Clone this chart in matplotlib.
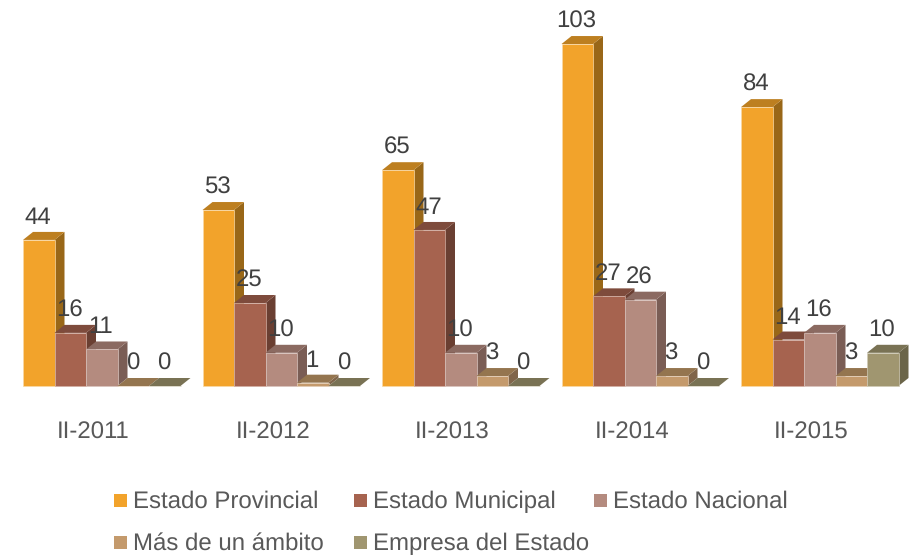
import matplotlib
matplotlib.use("Agg")
import matplotlib.pyplot as plt
from matplotlib.patches import Polygon, Rectangle

plt.rcParams['font.family'] = ['Liberation Sans', 'DejaVu Sans']
plt.rcParams['text.hinting'] = 'none'
plt.rcParams['text.hinting_factor'] = 1

periods = ["II-2011", "II-2012", "II-2013", "II-2014", "II-2015"]
series_names = ["Estado Provincial", "Estado Municipal", "Estado Nacional",
                "Más de un ámbito", "Empresa del Estado"]
provincial = [44, 53, 65, 103, 84]
municipal = [16, 25, 47, 27, 14]
nacional = [11, 10, 10, 26, 16]
ambito = [0, 1, 3, 3, 3]
empresa = [0, 0, 0, 0, 10]
series = [provincial, municipal, nacional, ambito, empresa]

front = ["#F2A32B", "#A6634F", "#B48B7F", "#C49A6C", "#A09670"]
edge = ["#F8D9A8", "#D3AFA4", "#DAC5BF", "#E3CCB4", "#D0CAB6"]
top = ["#BD7F20", "#7E4B3C", "#8B6A61", "#94754F", "#797254"]
side = ["#996718", "#6A3F32", "#7A5D55", "#80654A", "#6B6549"]
TXT = "#404040"

W, H = 917, 555
GROUP = 179.5
X0 = 23
Y0 = 386
PXV = 3.32
fig = plt.figure(figsize=(W / 100, H / 100), dpi=100)
ax = fig.add_axes([0, 0, 1, 1])
ax.set_xlim(-X0 / GROUP, (W - X0) / GROUP)
ax.set_ylim(-(H - Y0) / PXV, Y0 / PXV)
ax.axis("off")

bw = 31.5 / GROUP
dx = 10 / GROUP
dy = 8 / PXV

for s in range(len(series)):
    for g, v in enumerate(series[s]):
        x = g + s * bw
        ax.add_patch(Polygon([(x + bw, 0), (x + bw + dx, dy), (x + bw + dx, v + dy), (x + bw, v)],
                             fc=side[s], ec="none", zorder=s * 2 + 1))
        ax.add_patch(Polygon([(x, v), (x + dx, v + dy), (x + bw + dx, v + dy), (x + bw, v)],
                             fc=top[s], ec="none", zorder=s * 2 + 1))
        ax.add_patch(Rectangle((x, 0), bw, v, fc=front[s], ec=edge[s], lw=0.5, zorder=s * 2 + 2))

for s in range(len(series)):
    for g, v in enumerate(series[s]):
        ax.text(g + (s + 0.5) * bw - 0.005, v + 16 / PXV, str(v), ha="center", va="baseline",
                fontsize=17.4, color=TXT, zorder=20)

for g, p in enumerate(periods):
    ax.text(g + 2.5 * bw - 0.046, -53 / PXV, p, ha="center", va="baseline", fontsize=17.2, color="#595959")

legend_pos = [(114, 500), (354, 500), (594, 500), (114, 542), (354, 542)]
for (px, py), name, c in zip(legend_pos, series_names, front):
    fig.patches.append(Rectangle((px / W, 1 - (py + 6.5) / H), 13 / W, 13 / H,
                                 transform=fig.transFigure, fc=c, ec="none"))
    fig.text((px + 19) / W, 1 - (py + 8) / H, name, ha="left", va="baseline", fontsize=17.0, color="#595959")

fig.savefig("out.png", dpi=100)
